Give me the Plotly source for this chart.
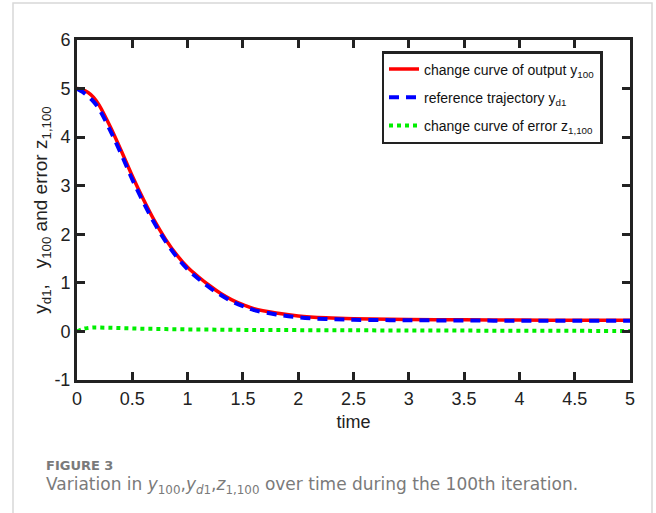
import plotly.graph_objects as go

# time samples
t = [0, 0.05, 0.1, 0.15, 0.2, 0.3, 0.4, 0.5, 0.6, 0.7, 0.8, 0.9, 1.0, 1.1, 1.2, 1.3, 1.4,
     1.5, 1.6, 1.8, 2.0, 2.25, 2.5, 3.0, 3.5, 4.0, 4.5, 5.0]
# output y100
y100 = [5.0, 4.98, 4.92, 4.82, 4.66, 4.22, 3.72, 3.2, 2.72, 2.28, 1.9, 1.58, 1.32, 1.12, 0.94,
        0.78, 0.65, 0.55, 0.47, 0.38, 0.32, 0.28, 0.26, 0.245, 0.24, 0.235, 0.23, 0.23]
# reference trajectory yd1
yd1 = [5.0, 4.93, 4.84, 4.73, 4.58, 4.14, 3.65, 3.13, 2.66, 2.23, 1.86, 1.54, 1.28, 1.08, 0.9,
       0.75, 0.62, 0.52, 0.44, 0.35, 0.29, 0.255, 0.24, 0.23, 0.225, 0.22, 0.22, 0.22]
# error z1,100
z = [0.0, 0.05, 0.07, 0.08, 0.08, 0.075, 0.068, 0.062, 0.056, 0.052, 0.048, 0.045, 0.042, 0.04,
     0.038, 0.036, 0.034, 0.032, 0.031, 0.029, 0.027, 0.025, 0.023, 0.02, 0.017, 0.014, 0.012, 0.01]

xticks = [0, 0.5, 1, 1.5, 2, 2.5, 3, 3.5, 4, 4.5, 5]
xticklabels = ["0", "0.5", "1", "1.5", "2", "2.5", "3", "3.5", "4", "4.5", "5"]
yticks = [-1, 0, 1, 2, 3, 4, 5, 6]
yticklabels = ["-1", "0", "1", "2", "3", "4", "5", "6"]

FONT = "Liberation Sans"

fig = go.Figure()
fig.add_trace(go.Scatter(x=t, y=y100, mode="lines", legendgroup="a",
                         line=dict(color="#ff0000", width=3.5, shape="spline"),
                         name="change curve of output y<sub>100</sub>"))
fig.add_trace(go.Scatter(x=t, y=yd1, mode="lines", legendgroup="b",
                         line=dict(color="#0000ff", width=4, dash="10px,7px", shape="spline"),
                         name="reference trajectory y<sub>d1</sub>"))
fig.add_trace(go.Scatter(x=t, y=z, mode="lines", legendgroup="c",
                         line=dict(color="#00ee00", width=4, dash="4px,4px", shape="spline"),
                         name="change curve of error z<sub>1,100</sub>"))

W, H = 656, 513
L, R, T, B = 77, 630, 40, 380
pw, ph = R - L, B - T


def px(xp):
    return (xp - L) / pw


def py(yp):
    return (B - yp) / ph


axis_common = dict(showline=True, linecolor="#222222", linewidth=3, mirror="ticks",
                   ticks="inside", ticklen=8, tickwidth=3, tickcolor="#222222",
                   showgrid=False, zeroline=False,
                   tickfont=dict(family=FONT, size=18, color="#222222"))

fig.update_xaxes(range=[0, 5], tickvals=xticks, ticktext=xticklabels,
                 title=dict(text="time", font=dict(family=FONT, size=18, color="#222222"), standoff=8),
                 **axis_common)
fig.update_yaxes(range=[-1, 6], tickvals=yticks, ticktext=yticklabels,
                 title=dict(text="y<sub>d1</sub>,   y<sub>100</sub> and error z<sub>1,100</sub>",
                            font=dict(family=FONT, size=19, color="#222222"), standoff=2),
                 **axis_common)

fig.update_layout(
    width=W, height=H,
    margin=dict(l=L, r=W - R, t=T, b=H - B),
    plot_bgcolor="white", paper_bgcolor="white",
    showlegend=True,
    legend=dict(x=px(492), y=py(51), xanchor="center", yanchor="top",
                bgcolor="white", bordercolor="#222222", borderwidth=2.5,
                font=dict(family=FONT, size=14, color="#111111"),
                tracegroupgap=7, itemwidth=30),
    shapes=[dict(type="rect", xref="paper", yref="paper",
                 x0=px(13), x1=px(652), y0=py(530), y1=py(3),
                 line=dict(color="#d8d8d8", width=1.5), fillcolor="rgba(0,0,0,0)", layer="below")],
    annotations=[
        dict(text="<b>FIGURE 3</b>", xref="paper", yref="paper", x=px(44), y=py(465),
             xanchor="left", yanchor="middle", showarrow=False,
             font=dict(family="DejaVu Sans", size=13, color="#7a7a7a")),
        dict(text="Variation in <i>y</i><sub>100</sub>,<i>y</i><sub><i>d</i>1</sub>,<i>z</i><sub>1,100</sub> over time during the 100th iteration.",
             xref="paper", yref="paper", x=px(44), y=py(485),
             xanchor="left", yanchor="middle", showarrow=False,
             font=dict(family="DejaVu Sans", size=17, color="#7a7a7a")),
    ],
)

fig.write_html("out.html")
